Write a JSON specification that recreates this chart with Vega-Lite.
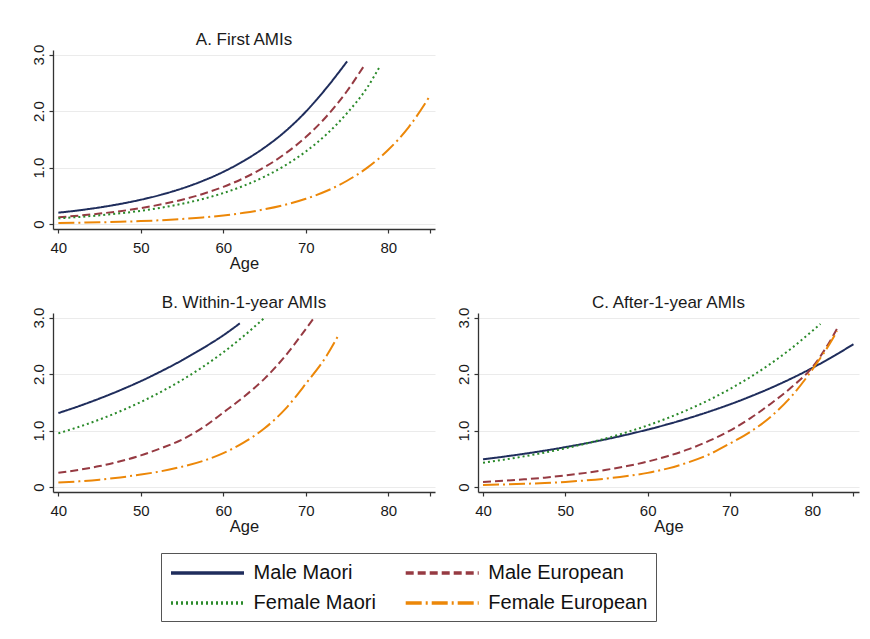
{
  "$schema": "https://vega.github.io/schema/vega-lite/v6.json",
  "background": "white",
  "padding": {"left": 31, "top": 31, "right": 5, "bottom": 5},
  "bounds": "flush",
  "spacing": 84,
  "data": {"values": [
    {"panel":"A","group":"Male Maori","age":40,"rate":0.20},{"panel":"A","group":"Male Maori","age":42.5,"rate":0.242},{"panel":"A","group":"Male Maori","age":45,"rate":0.293},{"panel":"A","group":"Male Maori","age":47.5,"rate":0.355},{"panel":"A","group":"Male Maori","age":50,"rate":0.43},{"panel":"A","group":"Male Maori","age":52.5,"rate":0.52},{"panel":"A","group":"Male Maori","age":55,"rate":0.63},{"panel":"A","group":"Male Maori","age":57.5,"rate":0.763},{"panel":"A","group":"Male Maori","age":60,"rate":0.924},{"panel":"A","group":"Male Maori","age":62.5,"rate":1.12},{"panel":"A","group":"Male Maori","age":65,"rate":1.355},{"panel":"A","group":"Male Maori","age":67.5,"rate":1.64},{"panel":"A","group":"Male Maori","age":70,"rate":1.99},{"panel":"A","group":"Male Maori","age":72.5,"rate":2.41},{"panel":"A","group":"Male Maori","age":75,"rate":2.88},
    {"panel":"A","group":"Male European","age":40,"rate":0.12},{"panel":"A","group":"Male European","age":42.5,"rate":0.148},{"panel":"A","group":"Male European","age":45,"rate":0.184},{"panel":"A","group":"Male European","age":47.5,"rate":0.227},{"panel":"A","group":"Male European","age":50,"rate":0.281},{"panel":"A","group":"Male European","age":52.5,"rate":0.348},{"panel":"A","group":"Male European","age":55,"rate":0.43},{"panel":"A","group":"Male European","age":57.5,"rate":0.532},{"panel":"A","group":"Male European","age":60,"rate":0.658},{"panel":"A","group":"Male European","age":62.5,"rate":0.814},{"panel":"A","group":"Male European","age":65,"rate":1.007},{"panel":"A","group":"Male European","age":67.5,"rate":1.246},{"panel":"A","group":"Male European","age":70,"rate":1.54},{"panel":"A","group":"Male European","age":72.5,"rate":1.905},{"panel":"A","group":"Male European","age":75,"rate":2.357},{"panel":"A","group":"Male European","age":77,"rate":2.79},
    {"panel":"A","group":"Female Maori","age":40,"rate":0.10},{"panel":"A","group":"Female Maori","age":42.5,"rate":0.124},{"panel":"A","group":"Female Maori","age":45,"rate":0.153},{"panel":"A","group":"Female Maori","age":47.5,"rate":0.189},{"panel":"A","group":"Female Maori","age":50,"rate":0.234},{"panel":"A","group":"Female Maori","age":52.5,"rate":0.29},{"panel":"A","group":"Female Maori","age":55,"rate":0.358},{"panel":"A","group":"Female Maori","age":57.5,"rate":0.443},{"panel":"A","group":"Female Maori","age":60,"rate":0.548},{"panel":"A","group":"Female Maori","age":62.5,"rate":0.678},{"panel":"A","group":"Female Maori","age":65,"rate":0.839},{"panel":"A","group":"Female Maori","age":67.5,"rate":1.038},{"panel":"A","group":"Female Maori","age":70,"rate":1.284},{"panel":"A","group":"Female Maori","age":72.5,"rate":1.588},{"panel":"A","group":"Female Maori","age":75,"rate":1.965},{"panel":"A","group":"Female Maori","age":77.5,"rate":2.43},{"panel":"A","group":"Female Maori","age":79,"rate":2.8},
    {"panel":"A","group":"Female European","age":40,"rate":0.018},{"panel":"A","group":"Female European","age":42.5,"rate":0.023},{"panel":"A","group":"Female European","age":45,"rate":0.03},{"panel":"A","group":"Female European","age":47.5,"rate":0.039},{"panel":"A","group":"Female European","age":50,"rate":0.051},{"panel":"A","group":"Female European","age":52.5,"rate":0.067},{"panel":"A","group":"Female European","age":55,"rate":0.088},{"panel":"A","group":"Female European","age":57.5,"rate":0.115},{"panel":"A","group":"Female European","age":60,"rate":0.151},{"panel":"A","group":"Female European","age":62.5,"rate":0.198},{"panel":"A","group":"Female European","age":65,"rate":0.26},{"panel":"A","group":"Female European","age":67.5,"rate":0.34},{"panel":"A","group":"Female European","age":70,"rate":0.446},{"panel":"A","group":"Female European","age":72.5,"rate":0.584},{"panel":"A","group":"Female European","age":75,"rate":0.766},{"panel":"A","group":"Female European","age":77.5,"rate":1.003},{"panel":"A","group":"Female European","age":80,"rate":1.314},{"panel":"A","group":"Female European","age":82.5,"rate":1.72},{"panel":"A","group":"Female European","age":85,"rate":2.26},
    {"panel":"B","group":"Male Maori","age":40,"rate":1.31},{"panel":"B","group":"Male Maori","age":42.5,"rate":1.433},{"panel":"B","group":"Male Maori","age":45,"rate":1.568},{"panel":"B","group":"Male Maori","age":47.5,"rate":1.715},{"panel":"B","group":"Male Maori","age":50,"rate":1.876},{"panel":"B","group":"Male Maori","age":52.5,"rate":2.053},{"panel":"B","group":"Male Maori","age":55,"rate":2.246},{"panel":"B","group":"Male Maori","age":57.5,"rate":2.457},{"panel":"B","group":"Male Maori","age":60,"rate":2.688},{"panel":"B","group":"Male Maori","age":62,"rate":2.9},
    {"panel":"B","group":"Female Maori","age":40,"rate":0.95},{"panel":"B","group":"Female Maori","age":42.5,"rate":1.066},{"panel":"B","group":"Female Maori","age":45,"rate":1.196},{"panel":"B","group":"Female Maori","age":47.5,"rate":1.342},{"panel":"B","group":"Female Maori","age":50,"rate":1.506},{"panel":"B","group":"Female Maori","age":52.5,"rate":1.69},{"panel":"B","group":"Female Maori","age":55,"rate":1.896},{"panel":"B","group":"Female Maori","age":57.5,"rate":2.127},{"panel":"B","group":"Female Maori","age":60,"rate":2.387},{"panel":"B","group":"Female Maori","age":62.5,"rate":2.678},{"panel":"B","group":"Female Maori","age":65,"rate":3.0},
    {"panel":"B","group":"Male European","age":40,"rate":0.25},{"panel":"B","group":"Male European","age":42.5,"rate":0.305},{"panel":"B","group":"Male European","age":45,"rate":0.37},{"panel":"B","group":"Male European","age":47.5,"rate":0.455},{"panel":"B","group":"Male European","age":50,"rate":0.56},{"panel":"B","group":"Male European","age":52.5,"rate":0.69},{"panel":"B","group":"Male European","age":55,"rate":0.84},{"panel":"B","group":"Male European","age":57.5,"rate":1.05},{"panel":"B","group":"Male European","age":60,"rate":1.32},{"panel":"B","group":"Male European","age":62.5,"rate":1.6},{"panel":"B","group":"Male European","age":65,"rate":1.92},{"panel":"B","group":"Male European","age":67.5,"rate":2.32},{"panel":"B","group":"Male European","age":70,"rate":2.8},{"panel":"B","group":"Male European","age":71,"rate":3.0},
    {"panel":"B","group":"Female European","age":40,"rate":0.08},{"panel":"B","group":"Female European","age":42.5,"rate":0.10},{"panel":"B","group":"Female European","age":45,"rate":0.13},{"panel":"B","group":"Female European","age":47.5,"rate":0.17},{"panel":"B","group":"Female European","age":50,"rate":0.22},{"panel":"B","group":"Female European","age":52.5,"rate":0.28},{"panel":"B","group":"Female European","age":55,"rate":0.36},{"panel":"B","group":"Female European","age":57.5,"rate":0.46},{"panel":"B","group":"Female European","age":60,"rate":0.60},{"panel":"B","group":"Female European","age":62.5,"rate":0.79},{"panel":"B","group":"Female European","age":65,"rate":1.04},{"panel":"B","group":"Female European","age":67.5,"rate":1.38},{"panel":"B","group":"Female European","age":70,"rate":1.83},{"panel":"B","group":"Female European","age":72.5,"rate":2.32},{"panel":"B","group":"Female European","age":74,"rate":2.70},
    {"panel":"C","group":"Male Maori","age":40,"rate":0.49},{"panel":"C","group":"Male Maori","age":42.5,"rate":0.537},{"panel":"C","group":"Male Maori","age":45,"rate":0.588},{"panel":"C","group":"Male Maori","age":47.5,"rate":0.644},{"panel":"C","group":"Male Maori","age":50,"rate":0.706},{"panel":"C","group":"Male Maori","age":52.5,"rate":0.773},{"panel":"C","group":"Male Maori","age":55,"rate":0.847},{"panel":"C","group":"Male Maori","age":57.5,"rate":0.928},{"panel":"C","group":"Male Maori","age":60,"rate":1.017},{"panel":"C","group":"Male Maori","age":62.5,"rate":1.114},{"panel":"C","group":"Male Maori","age":65,"rate":1.22},{"panel":"C","group":"Male Maori","age":67.5,"rate":1.337},{"panel":"C","group":"Male Maori","age":70,"rate":1.464},{"panel":"C","group":"Male Maori","age":72.5,"rate":1.604},{"panel":"C","group":"Male Maori","age":75,"rate":1.757},{"panel":"C","group":"Male Maori","age":77.5,"rate":1.925},{"panel":"C","group":"Male Maori","age":80,"rate":2.109},{"panel":"C","group":"Male Maori","age":82.5,"rate":2.31},{"panel":"C","group":"Male Maori","age":85,"rate":2.53},
    {"panel":"C","group":"Female Maori","age":40,"rate":0.43},{"panel":"C","group":"Female Maori","age":42.5,"rate":0.483},{"panel":"C","group":"Female Maori","age":45,"rate":0.543},{"panel":"C","group":"Female Maori","age":47.5,"rate":0.61},{"panel":"C","group":"Female Maori","age":50,"rate":0.685},{"panel":"C","group":"Female Maori","age":52.5,"rate":0.769},{"panel":"C","group":"Female Maori","age":55,"rate":0.864},{"panel":"C","group":"Female Maori","age":57.5,"rate":0.971},{"panel":"C","group":"Female Maori","age":60,"rate":1.09},{"panel":"C","group":"Female Maori","age":62.5,"rate":1.225},{"panel":"C","group":"Female Maori","age":65,"rate":1.376},{"panel":"C","group":"Female Maori","age":67.5,"rate":1.545},{"panel":"C","group":"Female Maori","age":70,"rate":1.736},{"panel":"C","group":"Female Maori","age":72.5,"rate":1.95},{"panel":"C","group":"Female Maori","age":75,"rate":2.19},{"panel":"C","group":"Female Maori","age":77.5,"rate":2.46},{"panel":"C","group":"Female Maori","age":80,"rate":2.764},{"panel":"C","group":"Female Maori","age":81,"rate":2.89},
    {"panel":"C","group":"Male European","age":40,"rate":0.09},{"panel":"C","group":"Male European","age":42.5,"rate":0.11},{"panel":"C","group":"Male European","age":45,"rate":0.135},{"panel":"C","group":"Male European","age":47.5,"rate":0.165},{"panel":"C","group":"Male European","age":50,"rate":0.205},{"panel":"C","group":"Male European","age":52.5,"rate":0.25},{"panel":"C","group":"Male European","age":55,"rate":0.305},{"panel":"C","group":"Male European","age":57.5,"rate":0.37},{"panel":"C","group":"Male European","age":60,"rate":0.45},{"panel":"C","group":"Male European","age":62.5,"rate":0.55},{"panel":"C","group":"Male European","age":65,"rate":0.67},{"panel":"C","group":"Male European","age":67.5,"rate":0.82},{"panel":"C","group":"Male European","age":70,"rate":1.0},{"panel":"C","group":"Male European","age":72.5,"rate":1.22},{"panel":"C","group":"Male European","age":75,"rate":1.48},{"panel":"C","group":"Male European","age":77.5,"rate":1.77},{"panel":"C","group":"Male European","age":80,"rate":2.12},{"panel":"C","group":"Male European","age":82.5,"rate":2.67},{"panel":"C","group":"Male European","age":83,"rate":2.80},
    {"panel":"C","group":"Female European","age":40,"rate":0.035},{"panel":"C","group":"Female European","age":42.5,"rate":0.044},{"panel":"C","group":"Female European","age":45,"rate":0.055},{"panel":"C","group":"Female European","age":47.5,"rate":0.07},{"panel":"C","group":"Female European","age":50,"rate":0.09},{"panel":"C","group":"Female European","age":52.5,"rate":0.116},{"panel":"C","group":"Female European","age":55,"rate":0.15},{"panel":"C","group":"Female European","age":57.5,"rate":0.194},{"panel":"C","group":"Female European","age":60,"rate":0.25},{"panel":"C","group":"Female European","age":62.5,"rate":0.33},{"panel":"C","group":"Female European","age":65,"rate":0.44},{"panel":"C","group":"Female European","age":67.5,"rate":0.58},{"panel":"C","group":"Female European","age":70,"rate":0.77},{"panel":"C","group":"Female European","age":72.5,"rate":0.98},{"panel":"C","group":"Female European","age":75,"rate":1.25},{"panel":"C","group":"Female European","age":77.5,"rate":1.61},{"panel":"C","group":"Female European","age":80,"rate":2.08},{"panel":"C","group":"Female European","age":82.5,"rate":2.63},{"panel":"C","group":"Female European","age":83,"rate":2.76}
  ]},
  "vconcat": [
    {
      "title": "A. First AMIs",
      "width": 382, "height": 179,
      "transform": [{"filter": "datum.panel === 'A'"}],
      "mark": {"type": "line", "strokeWidth": 2, "interpolate": "monotone"},
      "encoding": {
        "x": {"field": "age", "type": "quantitative", "scale": {"domain": [39.35, 85.66], "nice": false, "zero": false}, "axis": {"values": [40, 50, 60, 70, 80, 85], "labelExpr": "datum.value == 85 ? '' : datum.label", "title": "Age", "grid": false}},
        "y": {"field": "rate", "type": "quantitative", "scale": {"domain": [-0.089, 3.083], "nice": false}, "axis": {"values": [0, 1, 2, 3], "labelExpr": "datum.value == 0 ? '0' : format(datum.value, '.1f')", "title": null}},
        "color": {"field": "group", "type": "nominal", "scale": {"domain": ["Male Maori", "Male European", "Female Maori", "Female European"], "range": ["#1f2d5c", "#963a42", "#2a8a2a", "#ec8708"]}, "legend": {"title": null}},
        "strokeDash": {"field": "group", "type": "nominal", "scale": {"domain": ["Male Maori", "Male European", "Female Maori", "Female European"], "range": [[1, 0], [8, 4], [2, 3], [16, 4, 2, 4]]}, "legend": {"title": null}}
      }
    },
    {
      "spacing": 43,
      "bounds": "flush",
      "hconcat": [
        {
          "title": "B. Within-1-year AMIs",
          "width": 382, "height": 179,
          "transform": [{"filter": "datum.panel === 'B'"}],
          "mark": {"type": "line", "strokeWidth": 2, "interpolate": "monotone"},
          "encoding": {
            "x": {"field": "age", "type": "quantitative", "scale": {"domain": [39.35, 85.66], "nice": false, "zero": false}, "axis": {"values": [40, 50, 60, 70, 80, 85], "labelExpr": "datum.value == 85 ? '' : datum.label", "title": "Age", "grid": false}},
            "y": {"field": "rate", "type": "quantitative", "scale": {"domain": [-0.089, 3.083], "nice": false}, "axis": {"values": [0, 1, 2, 3], "labelExpr": "datum.value == 0 ? '0' : format(datum.value, '.1f')", "title": null}},
            "color": {"field": "group", "type": "nominal", "legend": {"title": null}},
            "strokeDash": {"field": "group", "type": "nominal", "legend": {"title": null}}
          }
        },
        {
          "title": "C. After-1-year AMIs",
          "width": 381, "height": 179,
          "transform": [{"filter": "datum.panel === 'C'"}],
          "mark": {"type": "line", "strokeWidth": 2, "interpolate": "monotone"},
          "encoding": {
            "x": {"field": "age", "type": "quantitative", "scale": {"domain": [39.39, 85.68], "nice": false, "zero": false}, "axis": {"values": [40, 50, 60, 70, 80, 85], "labelExpr": "datum.value == 85 ? '' : datum.label", "title": "Age", "grid": false}},
            "y": {"field": "rate", "type": "quantitative", "scale": {"domain": [-0.089, 3.083], "nice": false}, "axis": {"values": [0, 1, 2, 3], "labelExpr": "datum.value == 0 ? '0' : format(datum.value, '.1f')", "title": null}},
            "color": {"field": "group", "type": "nominal", "legend": {"title": null}},
            "strokeDash": {"field": "group", "type": "nominal", "legend": {"title": null}}
          }
        }
      ]
    }
  ],
  "resolve": {"scale": {"x": "independent", "y": "independent"}},
  "config": {
    "font": "Liberation Sans",
    "view": {"stroke": null},
    "axis": {"domainColor": "#333333", "domainWidth": 1.3, "tickColor": "#333333", "tickSize": 4, "tickWidth": 1.2, "labelFontSize": 15, "labelColor": "#1a1a1a", "labelPadding": 7, "titleFontSize": 16.5, "titleFontWeight": "normal", "titleColor": "#1a1a1a", "titlePadding": 0, "gridColor": "#ebebeb", "gridWidth": 1},
    "axisX": {"labelAngle": 0},
    "axisY": {"grid": true, "labelAngle": -90, "labelAlign": "center", "labelBaseline": "alphabetic", "labelPadding": 6},
    "title": {"fontSize": 17, "fontWeight": "normal", "color": "#1a1a1a", "offset": -5, "anchor": "middle"},
    "legend": {"orient": "none", "legendX": 108, "legendY": 503, "direction": "horizontal", "columns": 2, "symbolType": "M-1,0H6.3", "symbolSize": 400, "symbolStrokeWidth": 3.5, "labelFontSize": 20, "labelColor": "#111111", "labelOffset": 60.6, "labelLimit": 300, "columnPadding": 22.7, "rowPadding": 8, "padding": 8, "strokeColor": "#555555", "fillColor": "white"}
  }
}
